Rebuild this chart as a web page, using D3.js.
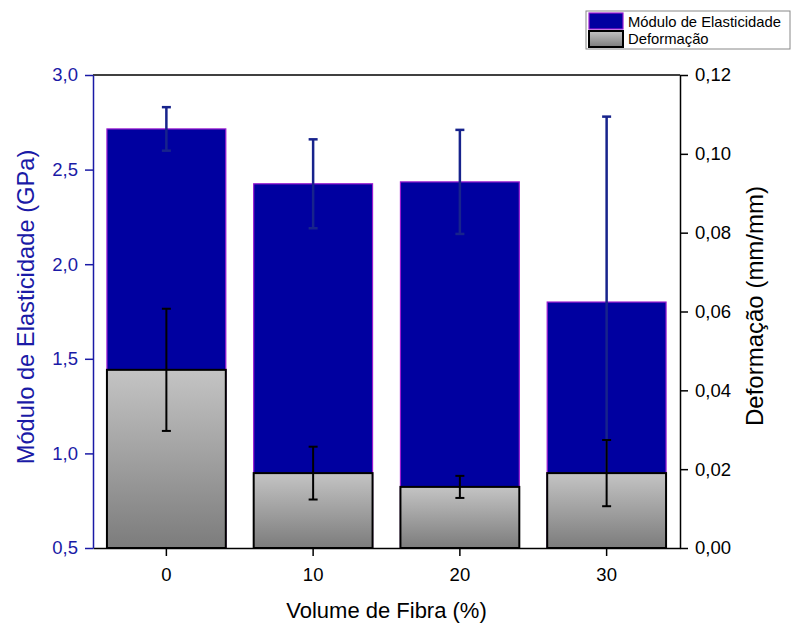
<!DOCTYPE html>
<html>
<head>
<meta charset="utf-8">
<script src="https://cdn.jsdelivr.net/npm/d3@7"></script>
<style>
  body { margin: 0; background: #fff; }
  text { font-family: "Liberation Sans", Arial, sans-serif; }
</style>
</head>
<body>
<div id="chart"></div>
<script>
let categories = ['0', '10', '20', '30']
let modulo = [2.715, 2.425, 2.435, 1.80]
let moduloErr = [0.115, 0.235, 0.275, 0.98]
let deformacao = [0.0452, 0.019, 0.0155, 0.019]
let deformacaoErr = [0.0155, 0.0067, 0.0028, 0.0084]
let leftTicks = [0.5, 1.0, 1.5, 2.0, 2.5, 3.0]
let rightTicks = [0, 0.02, 0.04, 0.06, 0.08, 0.10, 0.12]

let margin = { top: 75, left: 93, right: 112, bottom: 78 }
let width = 792 - margin.left - margin.right
let height = 626 - margin.top - margin.bottom

let blue = '#0000a0'
let axisBlue = '#1a1aa6'

let locale = d3.formatLocale({ decimal: ',', thousands: '.', grouping: [3], currency: ['', ''] })
let fmt1 = locale.format('.1f')
let fmt2 = locale.format('.2f')

let svg = d3
  .select('#chart')
  .append('svg')
  .attr('width', 792)
  .attr('height', 626)

let defs = svg.append('defs')
let grad = defs
  .append('linearGradient')
  .attr('id', 'gray-grad')
  .attr('x1', 0).attr('y1', 0).attr('x2', 0).attr('y2', 1)
grad.append('stop').attr('offset', '0%').attr('stop-color', '#c4c4c4')
grad.append('stop').attr('offset', '100%').attr('stop-color', '#7c7c7c')

let g = svg
  .append('g')
  .attr('transform', 'translate(' + margin.left + ',' + margin.top + ')')

let x = d3.scaleBand()
  .domain(categories)
  .range([0, width])
  .paddingInner(0.19)
  .paddingOuter(0.095)

let yLeft = d3.scaleLinear().domain([0.5, 3.0]).range([height, 0])
let yRight = d3.scaleLinear().domain([0, 0.12]).range([height, 0])

let data = categories.map((c, i) => ({
  cat: c,
  mod: modulo[i],
  modErr: moduloErr[i],
  def: deformacao[i],
  defErr: deformacaoErr[i]
}))

// blue bars
g.selectAll('.bar-mod')
  .data(data)
  .enter()
  .append('rect')
  .attr('class', 'bar-mod')
  .attr('x', d => x(d.cat))
  .attr('width', x.bandwidth())
  .attr('y', d => yLeft(d.mod))
  .attr('height', d => height - yLeft(d.mod))
  .attr('fill', blue)
  .attr('stroke', '#9a1ad0')
  .attr('stroke-width', 1.2)

function errorBars(cls, yScale, val, err, color, w) {
  let eb = g.selectAll('.' + cls)
    .data(data)
    .enter()
    .append('g')
    .attr('class', cls)
    .attr('stroke', color)
    .attr('stroke-width', w)
  eb.append('line')
    .attr('x1', d => x(d.cat) + x.bandwidth() / 2)
    .attr('x2', d => x(d.cat) + x.bandwidth() / 2)
    .attr('y1', d => yScale(d[val] + d[err]))
    .attr('y2', d => yScale(d[val] - d[err]))
  eb.append('line')
    .attr('x1', d => x(d.cat) + x.bandwidth() / 2 - 4.5)
    .attr('x2', d => x(d.cat) + x.bandwidth() / 2 + 4.5)
    .attr('y1', d => yScale(d[val] + d[err]))
    .attr('y2', d => yScale(d[val] + d[err]))
  eb.append('line')
    .attr('x1', d => x(d.cat) + x.bandwidth() / 2 - 4.5)
    .attr('x2', d => x(d.cat) + x.bandwidth() / 2 + 4.5)
    .attr('y1', d => yScale(d[val] - d[err]))
    .attr('y2', d => yScale(d[val] - d[err]))
}

errorBars('err-mod', yLeft, 'mod', 'modErr', '#17238c', 2.5)

// gray bars
g.selectAll('.bar-def')
  .data(data)
  .enter()
  .append('rect')
  .attr('class', 'bar-def')
  .attr('x', d => x(d.cat))
  .attr('width', x.bandwidth())
  .attr('y', d => yRight(d.def))
  .attr('height', d => height - yRight(d.def))
  .attr('fill', 'url(#gray-grad)')
  .attr('stroke', '#000')
  .attr('stroke-width', 2)

errorBars('err-def', yRight, 'def', 'defErr', '#000', 2)

// top border
g.append('line')
  .attr('x1', 0).attr('x2', width)
  .attr('y1', 0).attr('y2', 0)
  .attr('stroke', '#000')
  .attr('stroke-width', 1.5)

// axes
let xAxis = g.append('g')
  .attr('transform', 'translate(0,' + height + ')')
  .call(d3.axisBottom(x).tickSize(8).tickPadding(12).tickSizeOuter(0))
xAxis.select('.domain').attr('stroke', '#000').attr('stroke-width', 1.5)
xAxis.selectAll('.tick line').attr('stroke', '#000').attr('stroke-width', 1.5)
xAxis.selectAll('text').attr('font-size', 18.5).attr('fill', '#000')

let leftAxis = g.append('g')
  .call(d3.axisLeft(yLeft).tickValues(leftTicks).tickFormat(fmt1).tickSize(8).tickPadding(7).tickSizeOuter(0))
leftAxis.select('.domain').attr('stroke', axisBlue).attr('stroke-width', 1.5)
leftAxis.selectAll('.tick line').attr('stroke', axisBlue).attr('stroke-width', 1.5)
leftAxis.selectAll('text').attr('font-size', 18.5).attr('fill', axisBlue)

let rightAxis = g.append('g')
  .attr('transform', 'translate(' + width + ',0)')
  .call(d3.axisRight(yRight).tickValues(rightTicks).tickFormat(fmt2).tickSize(8).tickPadding(7).tickSizeOuter(0))
rightAxis.select('.domain').attr('stroke', '#000').attr('stroke-width', 1.5)
rightAxis.selectAll('.tick line').attr('stroke', '#000').attr('stroke-width', 1.5)
rightAxis.selectAll('text').attr('font-size', 18.5).attr('fill', '#000')

// axis titles
svg.append('text')
  .attr('x', margin.left + width / 2)
  .attr('y', 618)
  .attr('text-anchor', 'middle')
  .attr('font-size', 22)
  .attr('fill', '#000')
  .text('Volume de Fibra (%)')

svg.append('text')
  .attr('transform', 'translate(34,307) rotate(-90)')
  .attr('text-anchor', 'middle')
  .attr('font-size', 23.7)
  .attr('fill', axisBlue)
  .text('Módulo de Elasticidade (GPa)')

svg.append('text')
  .attr('transform', 'translate(763,306) rotate(-90)')
  .attr('text-anchor', 'middle')
  .attr('font-size', 24)
  .attr('fill', '#000')
  .text('Deformação (mm/mm)')

// legend
let legend = svg.append('g').attr('transform', 'translate(586,11)')
legend.append('rect')
  .attr('width', 204).attr('height', 38)
  .attr('fill', '#fff')
  .attr('stroke', '#888')
  .attr('stroke-width', 1)
let legItems = [
  { label: 'Módulo de Elasticidade', fill: blue, stroke: '#9a1ad0', sw: 1.2 },
  { label: 'Deformação', fill: 'url(#gray-grad)', stroke: '#000', sw: 2 }
]
legItems.forEach((it, i) => {
  legend.append('rect')
    .attr('x', 3).attr('y', 2 + i * 18)
    .attr('width', 34).attr('height', 16)
    .attr('fill', it.fill)
    .attr('stroke', it.stroke)
    .attr('stroke-width', it.sw)
  legend.append('text')
    .attr('x', 42).attr('y', 15.5 + i * 17)
    .attr('font-size', 14.8)
    .attr('fill', '#000')
    .text(it.label)
})
</script>
</body>
</html>
